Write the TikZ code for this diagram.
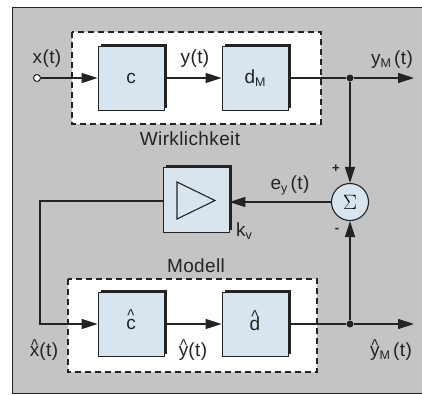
\documentclass[tikz,border=0pt]{standalone}
\usepackage{fontspec}
\setmainfont{Liberation Sans}[LetterSpace=2]
\usepackage{graphicx}
\usetikzlibrary{arrows.meta}
\definecolor{bg}{RGB}{196,196,196}
\definecolor{blockfill}{RGB}{216,228,238}
\definecolor{ink}{RGB}{35,35,35}
\newcommand{\hatty}[2][8pt]{\leavevmode\ooalign{#2\cr\hidewidth\raisebox{#1}{\scalebox{1}[1.15]{\fontsize{15}{15}\selectfont\char"5E}}\hidewidth\cr}}
\newcommand{\sbs}[1]{\raisebox{-3.5pt}{\fontsize{12.5}{13}\selectfont #1}}
\tikzset{
  lbl/.style={font=\fontsize{19}{21}\selectfont, text=ink, inner sep=0pt},
  blk/.style={draw=ink, line width=0.8pt, fill=blockfill, minimum width=66pt, minimum height=64pt, inner sep=0pt, font=\fontsize{19}{21}\selectfont, text=ink},
  shd/.style={fill=ink, minimum width=66pt, minimum height=64pt, inner sep=0pt},
  sig/.style={draw=ink, line width=1.3pt},
  arr/.style={sig, -{Triangle[length=16pt,width=10pt]}},
  dbox/.style={draw=ink, fill=white, line width=1.1pt, dash pattern=on 6pt off 4pt},
  dot/.style={circle, fill=ink, inner sep=0pt, minimum size=7pt}
}
\begin{document}
\begin{tikzpicture}[x=1pt,y=-1pt]
\useasboundingbox (0,0) rectangle (422,394);
\fill[white] (0,0) rectangle (422,394);
\draw[fill=bg, draw=ink, line width=0.8pt] (12,7) rectangle (424,393);
% dashed boxes
\draw[dbox] (72,32) rectangle (321,124);
\draw[dbox] (68,279) rectangle (317,372);
% shadows
\node[shd] at (133.5,75.5) {};
\node[shd] at (257.5,75.5) {};
\node[shd] at (133.5,321.5) {};
\node[shd] at (257.5,321.5) {};
\node[shd, minimum height=65pt] at (198.5,197.5) {};
% blocks
\node[blk] (c) at (131,78) {c};
\node[blk] (dM) at (255,78) {d\sbs{M}};
\node[blk] (ch) at (131,324) {\hatty{c}};
\node[blk] (dh) at (255,324) {\hatty{d}};
\node[blk, minimum height=65pt] (amp) at (196,200) {};
\draw[ink, line width=1.1pt] (177,182) -- (215,200.5) -- (177,219) -- cycle;
% sum
\node[circle, draw=ink, line width=1.1pt, fill=blockfill, minimum size=37pt, inner sep=0pt, font=\fontsize{22}{22}\selectfont] (sum) at (350,202) {$\Sigma$};
% coordinates
\node[circle, draw=ink, fill=white, line width=1pt, minimum size=7pt, inner sep=0pt] (in) at (37,78) {};
\node[dot] (j1) at (350,78) {};
\node[dot] (j2) at (350,324) {};
\coordinate (o1) at (414,78);
\coordinate (o2) at (414,324);
\coordinate (k1) at (40,201);
\coordinate (k2) at (40,324);
% connectors
\draw[arr] (in) -- (c);
\draw[arr] (c) -- (dM);
\draw[sig] (dM) -- (j1);
\draw[arr] (j1) -- (o1);
\draw[arr] (j1) -- (sum);
\draw[arr] (sum.west) -- (amp.east |- sum.west);
\draw[arr] (amp.west |- k1) -- (k1) -- (k2) -- (ch);
\draw[arr] (ch) -- (dh);
\draw[sig] (dh) -- (j2);
\draw[arr] (j2) -- (o2);
\draw[arr] (j2) -- (sum);
% labels
\node[lbl] (lx) at (47,59) {x(t)};
\node[lbl] (ly) at (195,59) {y(t)};
\node[lbl, anchor=base] (lyM) at (392,64) {y\sbs{M}\,(t)};
\node[lbl] (lw) at (190,139) {Wirklichkeit};
\node[lbl] (lm) at (196,266) {Modell};
\node[lbl, anchor=base] (le) at (290,189) {e\sbs{y}\,(t)};
\node[lbl, anchor=base] (lk) at (244,236) {k\sbs{v}};
\node[lbl, font=\fontsize{13}{14}\selectfont\bfseries] (lp) at (336,169) {+};
\node[lbl, font=\fontsize{13}{14}\selectfont\bfseries] (lmi) at (337,230) {-};
\node[lbl, anchor=base] (lxh) at (44,356) {\hatty[5pt]{x}(t)};
\node[lbl, anchor=base] (lyh) at (193,356) {\hatty[5pt]{y}(t)};
\node[lbl, anchor=base] (lyMh) at (391,356) {\hatty[5pt]{y}\sbs{M}\,(t)};
\end{tikzpicture}
\end{document}
